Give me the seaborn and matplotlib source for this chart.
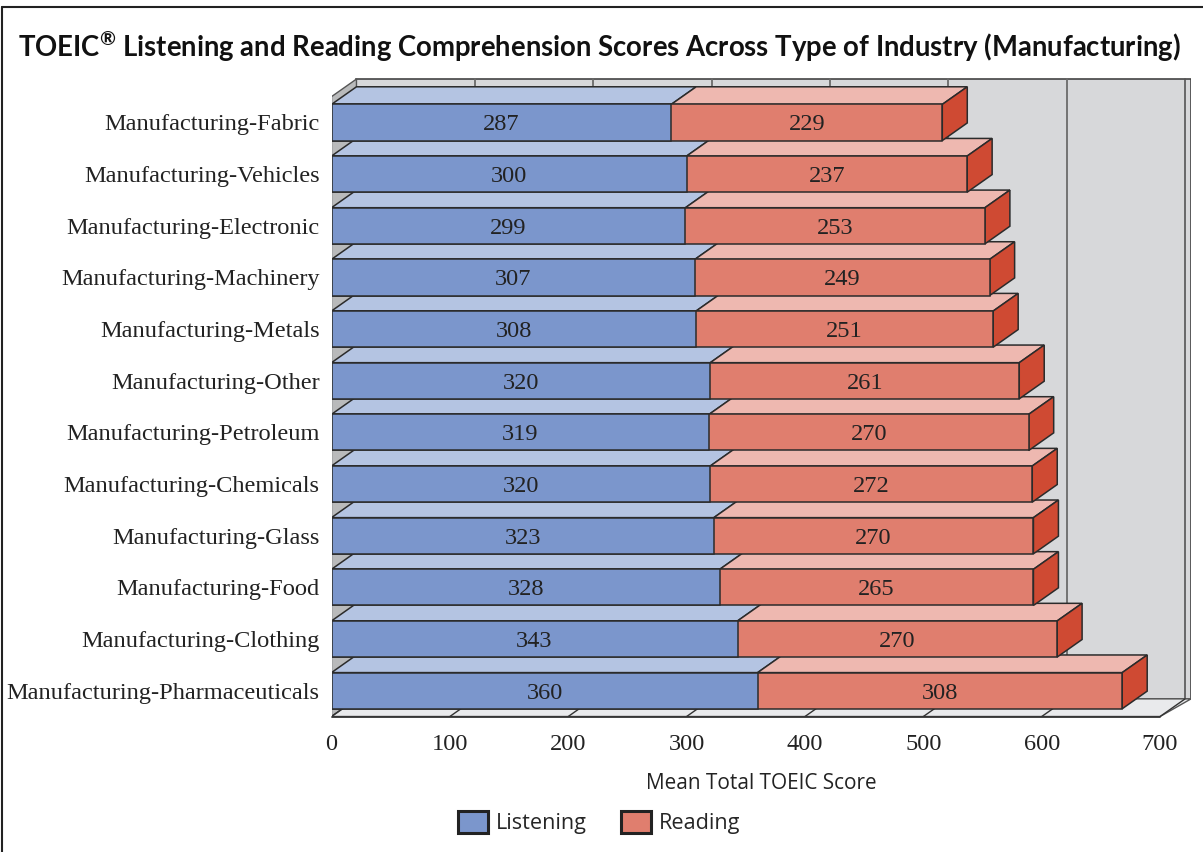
import numpy as np
import pandas as pd
import matplotlib.pyplot as plt
import seaborn as sns
from matplotlib.patches import Polygon, Patch
from matplotlib.lines import Line2D

# Datos
industrias = ['Manufacturing-Fabric', 'Manufacturing-Vehicles', 'Manufacturing-Electronic',
              'Manufacturing-Machinery', 'Manufacturing-Metals', 'Manufacturing-Other',
              'Manufacturing-Petroleum', 'Manufacturing-Chemicals', 'Manufacturing-Glass',
              'Manufacturing-Food', 'Manufacturing-Clothing', 'Manufacturing-Pharmaceuticals']
listening = [287, 300, 299, 307, 308, 320, 319, 320, 323, 328, 343, 360]
reading = [229, 237, 253, 249, 251, 261, 270, 272, 270, 265, 270, 308]
ticks_x = [0, 100, 200, 300, 400, 500, 600, 700]
grid_x = [100, 200, 300, 400, 500, 600]

titulo = r'TOEIC$^{\circledR}$ Listening and Reading Comprehension Scores Across Type of Industry (Manufacturing)'

# Colores
C_LIS, C_LIS_TOP = '#7b96cc', '#b4c4e2'
C_REA, C_REA_TOP, C_REA_SIDE = '#e07e6e', '#eeb8b0', '#cf4a33'
C_PARED, C_IZQ, C_PISO = '#d7d8da', '#b9babb', '#e9eaec'
C_BORDE = '#2b2b2b'

# efecto 3D (en unidades de datos)
DX, DY = 21.1, 0.341
ANCHO = 0.7
FS = 17.6

df = pd.DataFrame({'Industria': industrias, 'Listening': listening, 'Reading': reading})
df['Total'] = df['Listening'] + df['Reading']

sns.set_style('white')
plt.rcParams['font.family'] = ['Liberation Serif', 'DejaVu Serif']
plt.rcParams['mathtext.fontset'] = 'custom'
plt.rcParams['mathtext.rm'] = 'Lato:bold'
plt.rcParams['mathtext.it'] = 'Lato:bold'
plt.rcParams['mathtext.bf'] = 'Lato:bold'

fig = plt.figure(figsize=(12.03, 8.52), dpi=100)
ax = fig.add_axes([331.5 / 1203, (852 - 716.5) / 852, (1191 - 331.5) / 1203, 638.5 / 852])

x_max = ticks_x[-1]
y_piso = len(df) - 0.5
y_tope = -0.5 - DY

# paredes y piso
ax.add_patch(Polygon([(DX, y_piso - DY), (x_max + DX + 5, y_piso - DY), (x_max + DX + 5, y_tope), (DX, y_tope)],
                     closed=True, fc=C_PARED, ec='#444', lw=1.2, zorder=0))
ax.plot([x_max + DX, x_max + DX], [y_piso - DY, y_tope], color='#555', lw=1.2, zorder=0.2)
ax.add_patch(Polygon([(0, y_piso), (DX, y_piso - DY), (DX, y_tope), (0, y_tope + DY)],
                     closed=True, fc=C_IZQ, ec='#555', lw=1.0, zorder=0.3))
ax.add_patch(Polygon([(0, y_piso), (x_max, y_piso), (x_max + DX + 5, y_piso - DY), (DX, y_piso - DY)],
                     closed=True, fc=C_PISO, ec='#555', lw=1.0, zorder=0.3))
for g in grid_x:
    ax.plot([g + DX, g + DX], [y_piso - DY, y_tope], color='#6b6b6b', lw=1.3, zorder=0.4)
for t in ticks_x:
    ax.plot([t, t + DX], [y_piso, y_piso - DY], color='#333', lw=1.0, zorder=0.5)
ax.plot([0, x_max], [y_piso, y_piso], color='#333', lw=1.3, zorder=3, clip_on=False)

# caras superiores y laterales (de abajo hacia arriba)
for i in reversed(range(len(df))):
    L, T = df.loc[i, 'Listening'], df.loc[i, 'Total']
    yt, yb = i - ANCHO / 2, i + ANCHO / 2
    caras = [
        ([(0, yt), (L, yt), (L + DX, yt - DY), (DX, yt - DY)], C_LIS_TOP),
        ([(L, yt), (T, yt), (T + DX, yt - DY), (L + DX, yt - DY)], C_REA_TOP),
        ([(T, yt), (T + DX, yt - DY), (T + DX, yb - DY), (T, yb)], C_REA_SIDE),
    ]
    for pts, c in caras:
        ax.add_patch(Polygon(pts, closed=True, fc=c, ec=C_BORDE, lw=1.1, zorder=1))

# caras frontales
sns.barplot(data=df, y='Industria', x='Total', color=C_REA, saturation=1, width=ANCHO,
            edgecolor=C_BORDE, linewidth=1.1, errorbar=None, orient='h', ax=ax, zorder=2)
sns.barplot(data=df, y='Industria', x='Listening', color=C_LIS, saturation=1, width=ANCHO,
            edgecolor=C_BORDE, linewidth=1.1, errorbar=None, orient='h', ax=ax, zorder=2)

# valores
for i in range(len(df)):
    L, R = df.loc[i, 'Listening'], df.loc[i, 'Reading']
    ax.text(L / 2, i, str(L), ha='center', va='center_baseline', fontsize=FS, color='#222', zorder=4)
    ax.text(L + R / 2, i, str(R), ha='center', va='center_baseline', fontsize=FS, color='#222', zorder=4)

ax.set_xlim(0, x_max + DX + 5)
ax.set_ylim(y_piso, y_tope - 0.02)
ax.set_xticks(ticks_x)
ax.set_xticklabels([str(t) for t in ticks_x])
ax.tick_params(axis='x', length=4.3, width=1.2, color='#333', pad=8, labelsize=FS, labelcolor='#222')
ax.tick_params(axis='y', length=0, pad=8.6, labelsize=FS, labelcolor='#222')
ax.set_ylabel('')
for s in ax.spines.values():
    s.set_visible(False)

ax.set_xlabel('Mean Total TOEIC Score', fontfamily='Open Sans', fontsize=15, color='#222')
ax.xaxis.set_label_coords(0.5, (716.5 - 789.3) / 638.5)
ax.xaxis.label.set_va('baseline')

t = fig.text(599.7 / 1203, 1 - 57.3 / 852, titulo, ha='center', va='baseline',
             fontfamily='Lato', fontweight='bold', fontsize=20, color='#111')

# ajustar tamanos por ancho
fig.canvas.draw()
rend = fig.canvas.get_renderer()
def ajustar(texto, ancho_px):
    w = texto.get_window_extent(rend).width
    texto.set_fontsize(texto.get_fontsize() * ancho_px / w)

ajustar(t, 1163)
ajustar(ax.xaxis.label, 231)
tmp = fig.text(0, 0, 'Listening', fontfamily='Open Sans', fontsize=15)
ajustar(tmp, 91)
fs = tmp.get_fontsize()
tmp.remove()
fs_px = fs * 100 / 72

handles = [Patch(fc=C_LIS, ec='#222', lw=2.2, label='Listening'),
           Patch(fc=C_REA, ec='#222', lw=2.2, label='Reading')]
fig.legend(handles=handles, loc='center', bbox_to_anchor=(599.5 / 1203, 1 - 822.5 / 852), ncol=2,
           frameon=False, borderpad=0, prop={'family': 'Open Sans', 'size': fs},
           handlelength=30 / fs_px, handleheight=26 / fs_px, handletextpad=8 / fs_px,
           columnspacing=34 / fs_px)

# marco
fig.add_artist(Line2D([1.5 / 1203, 1.5 / 1203], [0, 1 - 7 / 852], transform=fig.transFigure, color='#222', lw=1.5))
fig.add_artist(Line2D([1.5 / 1203, 1], [1 - 7 / 852, 1 - 7 / 852], transform=fig.transFigure, color='#222', lw=1.5))

fig.savefig('out.png', dpi=100)
